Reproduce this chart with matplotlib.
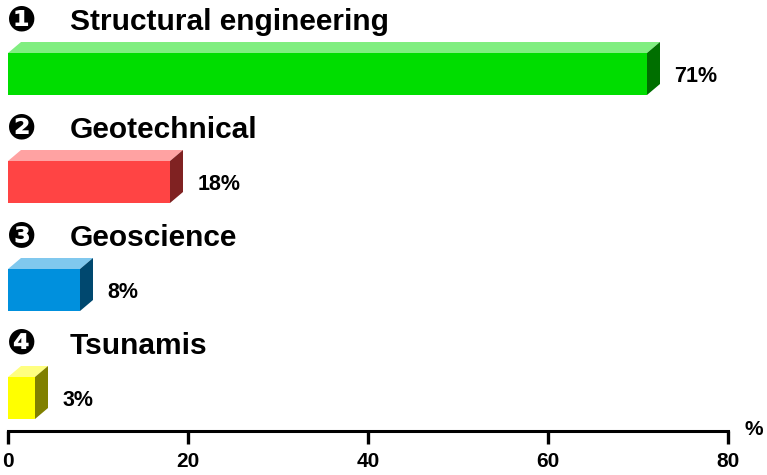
import matplotlib.pyplot as plt
from matplotlib.patches import Polygon
from matplotlib import colors as mcolors
import numpy as np

categories = ['Structural engineering', 'Geotechnical', 'Geoscience', 'Tsunamis']
markers = ['\u2776', '\u2777', '\u2778', '\u2779']
values = [71, 18, 8, 3]
bar_colors = ['#00dd00', '#ff4444', '#0090dd', '#ffff00']
xticks = [0, 20, 40, 60, 80]

W, H = 767, 475
fig = plt.figure(figsize=(W / 100, H / 100), dpi=100)
# axes: x 0..80 -> px 8..728, y px 0..431
ax = fig.add_axes([8 / W, 1 - 431 / H, 720 / W, 431 / H])
ax.set_xlim(0, 80)
ax.set_ylim(3 + 33 / 108, -74 / 108)

bh = 42 / 108        # bar height in row units
dx = 13 * 80 / 720   # depth offset in x units
dy = 11 / 108        # depth offset in row units

font = 'Liberation Sans'

for i, (cat, mk, v, c) in enumerate(zip(categories, markers, values, bar_colors)):
    rgb = np.array(mcolors.to_rgb(c))
    top_c = rgb + (1 - rgb) * 0.5
    side_c = rgb * 0.5
    y0, y1 = i - bh / 2, i + bh / 2
    # front
    ax.add_patch(Polygon([(0, y0), (v, y0), (v, y1), (0, y1)], closed=True,
                         facecolor=c, edgecolor='none'))
    # top
    ax.add_patch(Polygon([(0, y0), (v, y0), (v + dx, y0 - dy), (dx, y0 - dy)], closed=True,
                         facecolor=top_c, edgecolor='none'))
    # side
    ax.add_patch(Polygon([(v, y0), (v + dx, y0 - dy), (v + dx, y1 - dy), (v, y1)], closed=True,
                         facecolor=side_c, edgecolor='none'))
    ax.text(v + dx + 1.6, i + 0.02, f'{v}%', ha='left', va='center', fontsize=15.5,
            fontweight='bold', family=font)
    ax.text(1.5, i - 54 / 108, mk, ha='center', va='center', fontsize=25,
            fontweight='bold', family='DejaVu Sans', clip_on=False)
    ax.text(6.9, i - 52 / 108, cat, ha='left', va='center', fontsize=21.5,
            fontweight='bold', family=font, clip_on=False)

for s in ['top', 'right', 'left']:
    ax.spines[s].set_visible(False)
ax.spines['bottom'].set_linewidth(2.2)
ax.set_yticks([])
ax.set_xticks(xticks)
ax.set_xticklabels([str(t) for t in xticks], fontsize=15, fontweight='bold', family=font)
ax.tick_params(axis='x', length=9, width=2.4, pad=6)
ax.text(82.9, 3 + 33 / 108 - 0.01, '%', ha='center', va='center', fontsize=15,
        fontweight='bold', family=font, clip_on=False)

fig.savefig('out.png', dpi=100)
